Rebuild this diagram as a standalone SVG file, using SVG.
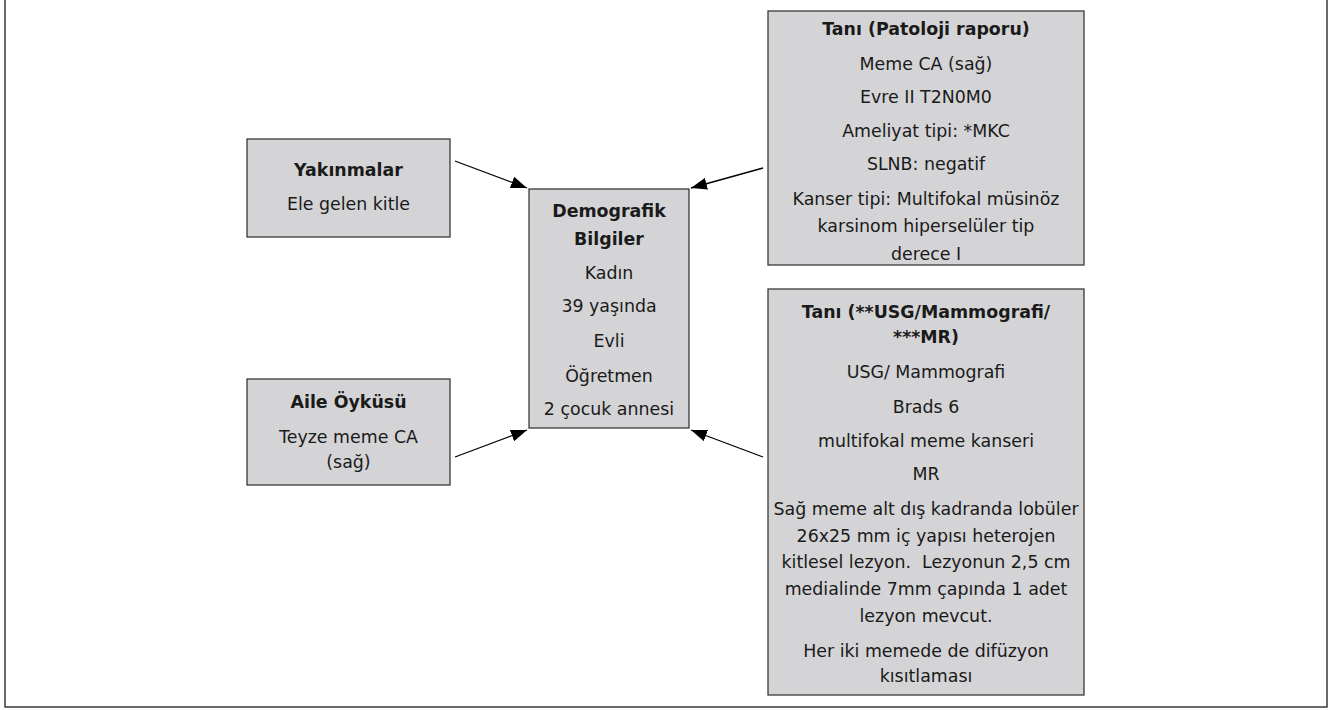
<svg xmlns="http://www.w3.org/2000/svg" width="1329" height="710" viewBox="0 0 1329 710">
<defs>
<style>
.box{fill:#d4d4d6;stroke:#3a3a3a;stroke-width:1.3}
.t{font-family:"DejaVu Sans","Open Sans","Liberation Sans",sans-serif;font-size:17.4px;fill:#1a1a1a;text-anchor:middle}
.b{font-weight:bold}
.conn{stroke:#000;stroke-width:1.3;fill:none;marker-end:url(#ah)}
</style>
<marker id="ah" viewBox="0 0 16 12" refX="16" refY="6" markerWidth="16" markerHeight="12" markerUnits="userSpaceOnUse" orient="auto">
<path d="M0,0 L16,6 L0,12 Z" fill="#000"/>
</marker>
</defs>
<rect x="0" y="0" width="1329" height="710" fill="#fff"/>
<path d="M5,-2 V707 H1327 V-2" fill="none" stroke="#3a3a3a" stroke-width="1.5"/>
<g id="connectors">
<line class="conn" x1="455" y1="161" x2="527" y2="188"/>
<line class="conn" x1="763" y1="168" x2="691" y2="188"/>
<line class="conn" x1="455" y1="457" x2="527" y2="430"/>
<line class="conn" x1="763" y1="457" x2="691" y2="430"/>
</g>
<g id="yakinmalar">
<rect class="box" x="247" y="139" width="203" height="98"/>
<text class="t b" x="348.5" y="176">Yakınmalar</text>
<text class="t" x="348.5" y="210">Ele gelen kitle</text>
</g>
<g id="aile">
<rect class="box" x="247" y="379" width="203" height="106"/>
<text class="t b" x="348.5" y="408">Aile Öyküsü</text>
<text class="t" x="348.5" y="443">Teyze meme CA</text>
<text class="t" x="348.5" y="468">(sağ)</text>
</g>
<g id="demografik">
<rect class="box" x="529" y="189" width="160" height="239"/>
<text class="t b" x="609" y="217">Demografik</text>
<text class="t b" x="609" y="245">Bilgiler</text>
<text class="t" x="609" y="279">Kadın</text>
<text class="t" x="609" y="312">39 yaşında</text>
<text class="t" x="609" y="347">Evli</text>
<text class="t" x="609" y="382">Öğretmen</text>
<text class="t" x="609" y="415">2 çocuk annesi</text>
</g>
<g id="patoloji">
<rect class="box" x="768" y="11" width="316" height="254"/>
<text class="t b" x="926" y="35">Tanı (Patoloji raporu)</text>
<text class="t" x="926" y="70">Meme CA (sağ)</text>
<text class="t" x="926" y="103">Evre II T2N0M0</text>
<text class="t" x="926" y="137">Ameliyat tipi: *MKC</text>
<text class="t" x="926" y="170">SLNB: negatif</text>
<text class="t" x="926" y="205">Kanser tipi: Multifokal müsinöz</text>
<text class="t" x="926" y="232">karsinom hiperselüler tip</text>
<text class="t" x="926" y="260">derece I</text>
</g>
<g id="usg">
<rect class="box" x="768" y="289" width="316" height="406"/>
<text class="t b" x="926" y="318">Tanı (**USG/Mammografi/</text>
<text class="t b" x="926" y="343">***MR)</text>
<text class="t" x="926" y="378">USG/ Mammografi</text>
<text class="t" x="926" y="413">Brads 6</text>
<text class="t" x="926" y="447">multifokal meme kanseri</text>
<text class="t" x="926" y="480">MR</text>
<text class="t" x="926" y="515">Sağ meme alt dış kadranda lobüler</text>
<text class="t" x="926" y="542">26x25 mm iç yapısı heterojen</text>
<text class="t" x="926" y="568">kitlesel lezyon.&#160; Lezyonun 2,5 cm</text>
<text class="t" x="926" y="595">medialinde 7mm çapında 1 adet</text>
<text class="t" x="926" y="622">lezyon mevcut.</text>
<text class="t" x="926" y="657">Her iki memede de difüzyon</text>
<text class="t" x="926" y="682">kısıtlaması</text>
</g>
</svg>
